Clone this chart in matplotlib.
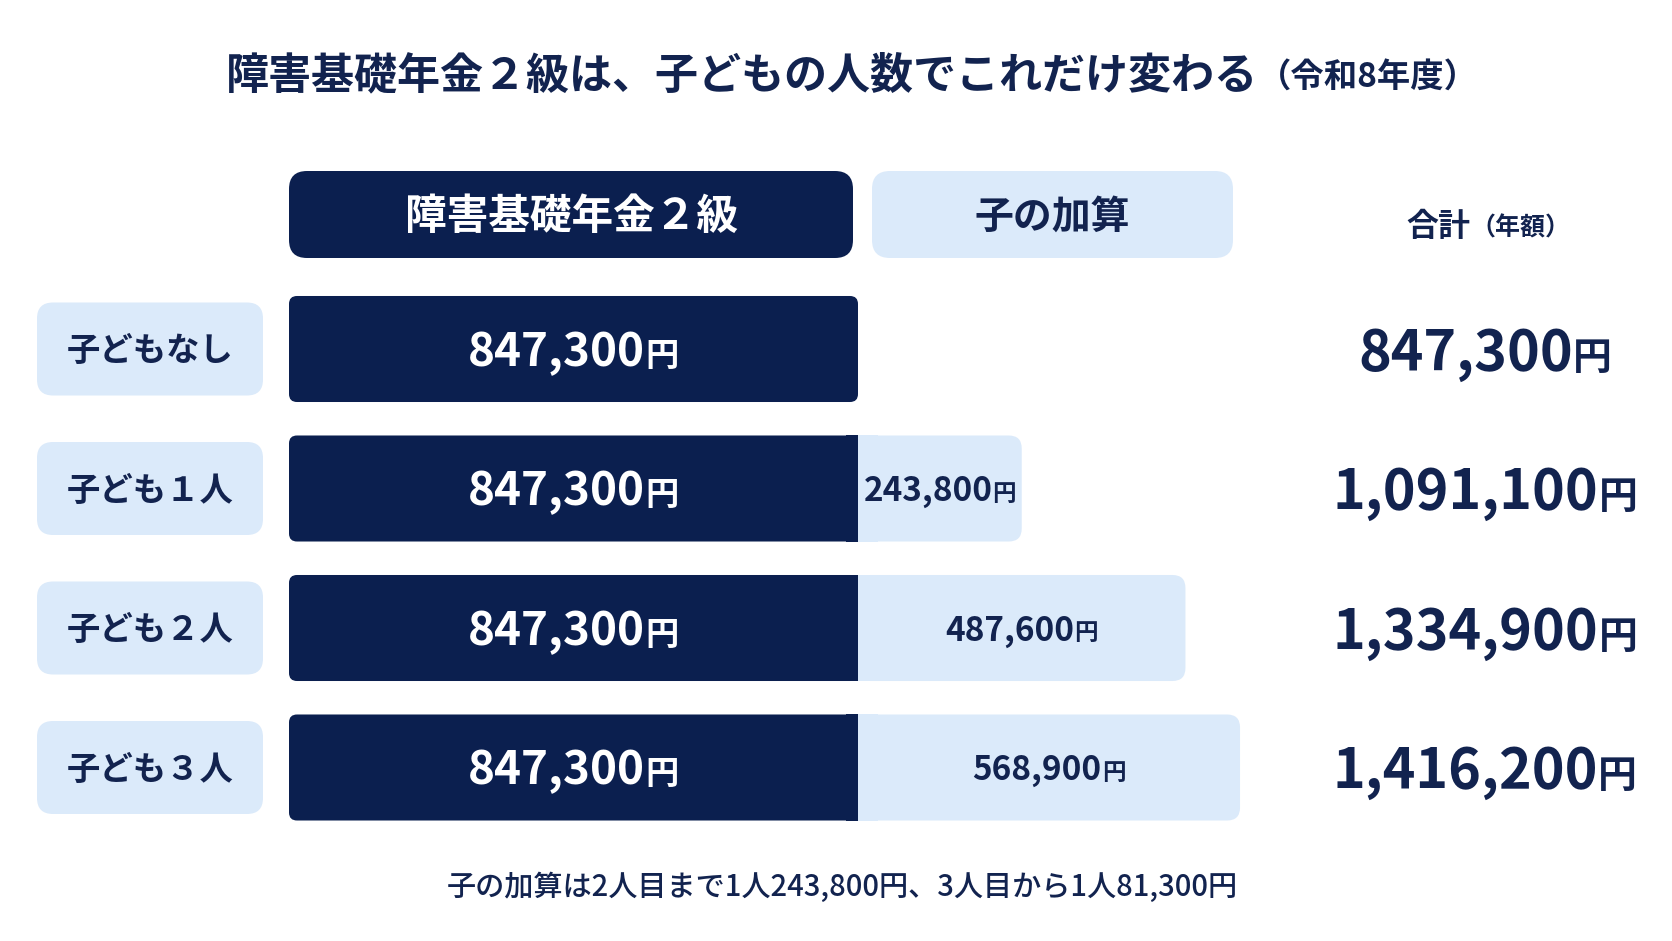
import matplotlib
matplotlib.use("Agg")
import matplotlib.pyplot as plt
from matplotlib.patches import FancyBboxPatch, Rectangle
from matplotlib.transforms import offset_copy

plt.rcParams['font.family'] = ['Noto Sans CJK JP', 'DejaVu Sans']

# データ
rows = ['子どもなし', '子ども１人', '子ども２人', '子ども３人']
base = [847300, 847300, 847300, 847300]
child = [0, 243800, 487600, 568900]
total = [b + c for b, c in zip(base, child)]

title = '障害基礎年金２級は、子どもの人数でこれだけ変わる'
title_sub = '（令和8年度）'
head_base = '障害基礎年金２級'
head_child = '子の加算'
head_total = '合計'
head_total_sub = '（年額）'
note = '子の加算は2人目まで1人243,800円、3人目から1人81,300円'

NAVY = '#0b1f4f'
TEXT = '#12234f'
LIGHT = '#dbeafa'

W, H = 1672, 941
fig = plt.figure(figsize=(W / 100, H / 100), dpi=100)
fig.patch.set_facecolor('white')

# ピクセル座標のオーバーレイ
ov = fig.add_axes([0, 0, 1, 1])
ov.set_xlim(0, W)
ov.set_ylim(H, 0)
ov.axis('off')

# 棒グラフ用の軸 (円単位)
ax_px = (289, 1339)
ax_top, ax_bot = 279.25, 837.25
ax = fig.add_axes([ax_px[0] / W, 1 - ax_bot / H, (ax_px[1] - ax_px[0]) / W, (ax_bot - ax_top) / H])
ax.set_xlim(0, base[0] * (ax_px[1] - ax_px[0]) / 569)
ax.set_ylim(len(rows) - 0.5, -0.5)
ax.axis('off')
ax.patch.set_alpha(0)

sx = (ax.get_xlim()[1] - ax.get_xlim()[0]) / (ax_px[1] - ax_px[0])
sy = len(rows) / (ax_bot - ax_top)
renderer = fig.canvas.get_renderer()


def rbar(x0, width, y, h, color, r_px, sq_left=False, sq_right=False):
    p = FancyBboxPatch((x0, y - h / 2), width, h,
                       boxstyle=f"round,pad=0,rounding_size={r_px * sx}",
                       mutation_aspect=sy / sx, fc=color, ec='none', zorder=2)
    ax.add_patch(p)
    if sq_left:
        ax.add_patch(Rectangle((x0, y - h / 2), r_px * sx * 1.5, h, fc=color, ec='none', zorder=2))
    if sq_right:
        ax.add_patch(Rectangle((x0 + width - r_px * sx * 1.5, y - h / 2), r_px * sx * 1.5, h,
                               fc=color, ec='none', zorder=2))


def rbox(x0, y0, x1, y1, color, r):
    ov.add_patch(FancyBboxPatch((x0, y0), x1 - x0, y1 - y0,
                                boxstyle=f"round,pad=0,rounding_size={r}",
                                fc=color, ec='none', zorder=1))


def group(a, x, y, parts, color, weight='bold'):
    """複数サイズの文字列を同じベースラインで中央揃え"""
    texts = []
    for s, size in parts:
        t = a.text(x, y, s, fontsize=size, color=color, fontweight=weight,
                   ha='left', va='baseline', zorder=5)
        texts.append((t, size))
    widths = [t.get_window_extent(renderer).width for t, _ in texts]
    big = max(sz for _, sz in parts)
    dy = -0.37 * big * 100 / 72
    dx = -sum(widths) / 2
    for (t, _), w in zip(texts, widths):
        t.set_transform(offset_copy(a.transData, fig=fig, x=dx, y=dy, units='dots'))
        dx += w


# タイトル
group(ov, 852, 72, [(title, 31), (title_sub, 24)], TEXT)

# ヘッダー
rbox(289, 171, 853, 258, NAVY, 18)
rbox(872, 171, 1233, 258, LIGHT, 18)
group(ov, 571, 214, [(head_base, 30)], 'white')
group(ov, 1052, 214, [(head_child, 28)], TEXT)
group(ov, 1488, 224, [(head_total, 23), (head_total_sub, 18)], TEXT)

bar_h = 0.76
for i, name in enumerate(rows):
    has_child = child[i] > 0
    rbar(0, base[i], i, bar_h, NAVY, 8, sq_right=has_child)
    if has_child:
        rbar(base[i], child[i], i, bar_h, LIGHT, 13, sq_left=True)
    group(ax, base[i] / 2, i, [(f"{base[i]:,}", 33), ('円', 24)], 'white')
    if has_child:
        group(ax, base[i] + child[i] / 2, i, [(f"{child[i]:,}", 24), ('円', 17)], TEXT)

    # 行ラベル
    yc = H - ax.transData.transform((0, i))[1]
    rbox(37, yc - 46.5, 263, yc + 46.5, LIGHT, 16)
    group(ov, 150, yc, [(name, 24)], TEXT)

    # 合計
    group(ov, 1485, yc, [(f"{total[i]:,}", 40), ('円', 28)], TEXT)

# 注記
group(ov, 842, 885, [(note, 21)], TEXT, weight='medium')

fig.savefig('out.png', dpi=100, facecolor='white')
